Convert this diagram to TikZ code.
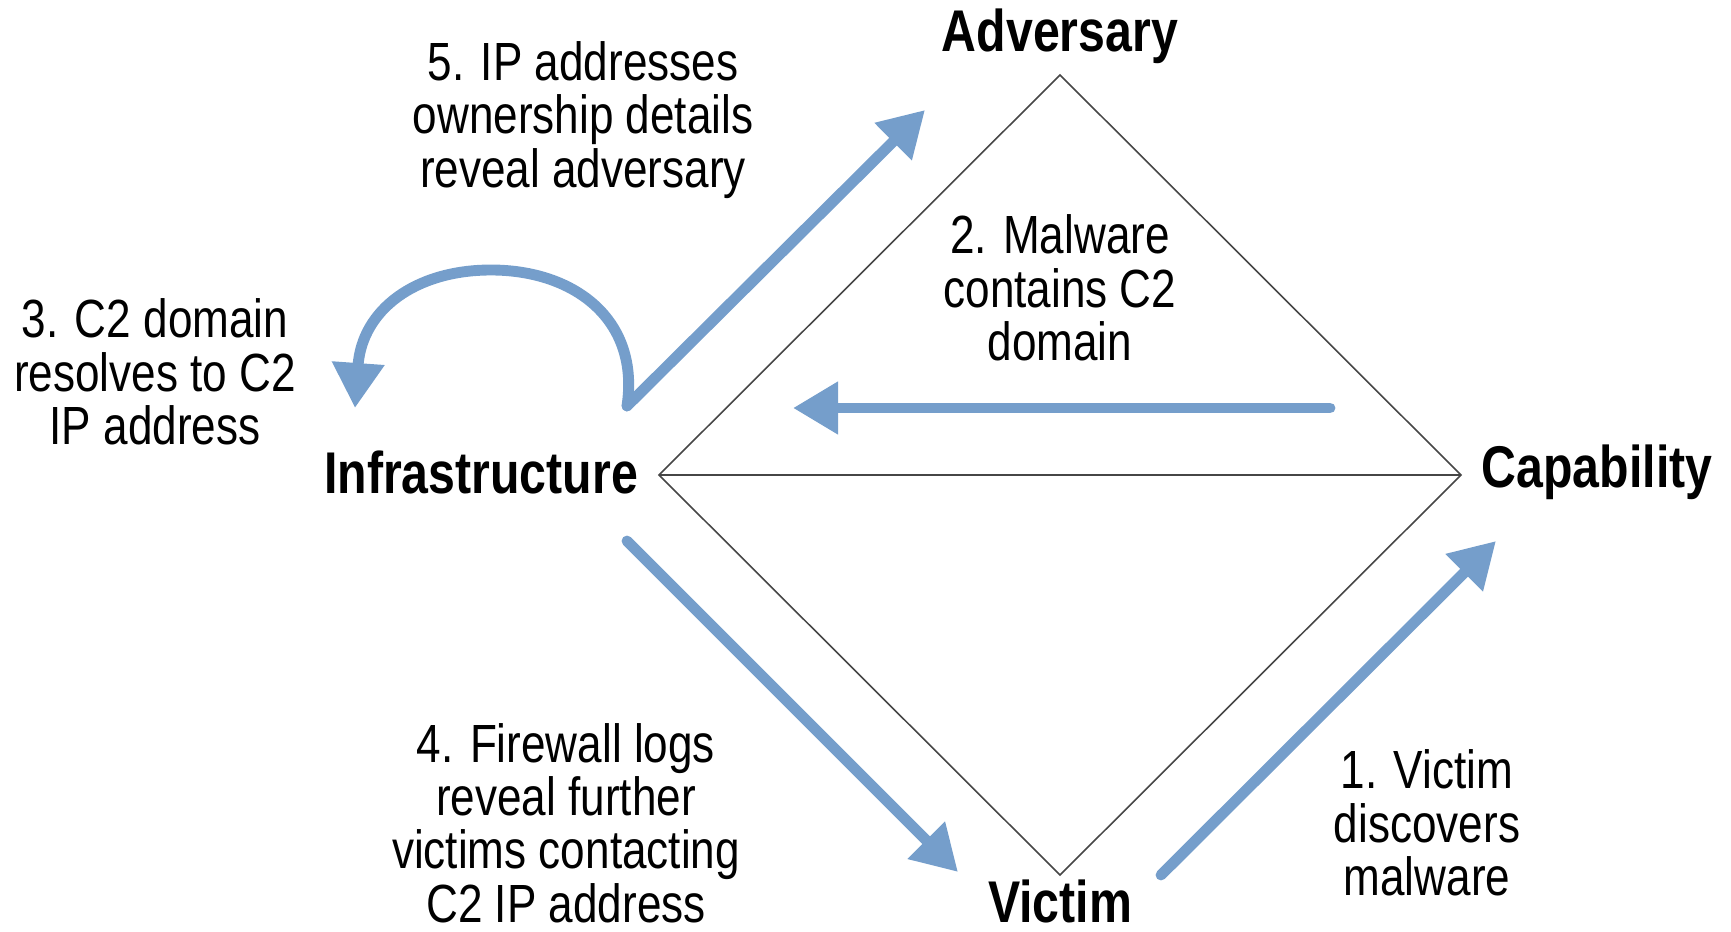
\documentclass[tikz,border=0pt]{standalone}
\usepackage{fontspec}
\setmainfont[FakeStretch=0.82]{Liberation Sans}
\usetikzlibrary{arrows.meta}
\definecolor{flowblue}{RGB}{117,158,203}
\definecolor{edgegray}{RGB}{70,70,70}
\begin{document}
\begin{tikzpicture}[x=0.02cm,y=-0.02cm,
  vlabel/.style={font=\fontsize{33.5}{36}\selectfont\bfseries, inner sep=0pt},
  note/.style={font=\fontsize{30.6}{30.3}\selectfont, align=center, inner sep=0pt},
  flow/.style={draw=flowblue, line width=6.2pt, line cap=round,
    -{Triangle[length=0.9cm,width=1.0cm]}},
  edge/.style={draw=edgegray, line width=0.9pt}]
\useasboundingbox (0,0) rectangle (1731,932);
% diamond vertices
\coordinate (top) at (1060,75);
\coordinate (lft) at (659,475);
\coordinate (rgt) at (1461,475);
\coordinate (bot) at (1060,875);
\draw[edge] (top) -- (rgt) -- (bot) -- (lft) -- cycle;
\draw[edge] (lft) -- (rgt);
% vertex labels
\node[vlabel] (adv) at (1060,36) {Adversary};
\node[vlabel] (inf) at (481,472) {Infrastructure};
\node[vlabel] (cap) at (1597,472) {Capability};
\node[vlabel] (vic) at (1060,901) {Victim};
% notes
\node[note] (n5) at (583,120) {5. IP addresses\\ownership details\\reveal adversary};
\node[note] (n2) at (1060,288) {2. Malware\\contains C2\\domain};
\node[note] (n3) at (155,372) {3. C2 domain\\resolves to C2\\IP address};
\node[note] (n4) at (566,823) {4. Firewall logs\\reveal further\\victims contacting\\C2 IP address};
\node[note] (n1) at (1427,823) {1. Victim\\discovers\\malware};
% arrow end points
\coordinate (s5) at (627,406);
\coordinate (e5) at (925,110);
\coordinate (s2) at (1330,408);
\coordinate (e2) at (793,408);
\coordinate (s4) at (627,541);
\coordinate (e4) at (958,872);
\coordinate (s1) at (1161,875);
\coordinate (e1) at (1496,541);
\coordinate (e3) at (355,408);
\coordinate (p3) at (491,270);
% arrows
\draw[flow] (s1) -- (e1);
\draw[flow] (s2) -- (e2);
\draw[flow] (s5) .. controls (640,320) and (575,270) .. (p3) .. controls (415,270) and (362,310) .. (e3);
\draw[flow] (s4) -- (e4);
\draw[flow] (s5) -- (e5);
\end{tikzpicture}
\end{document}
